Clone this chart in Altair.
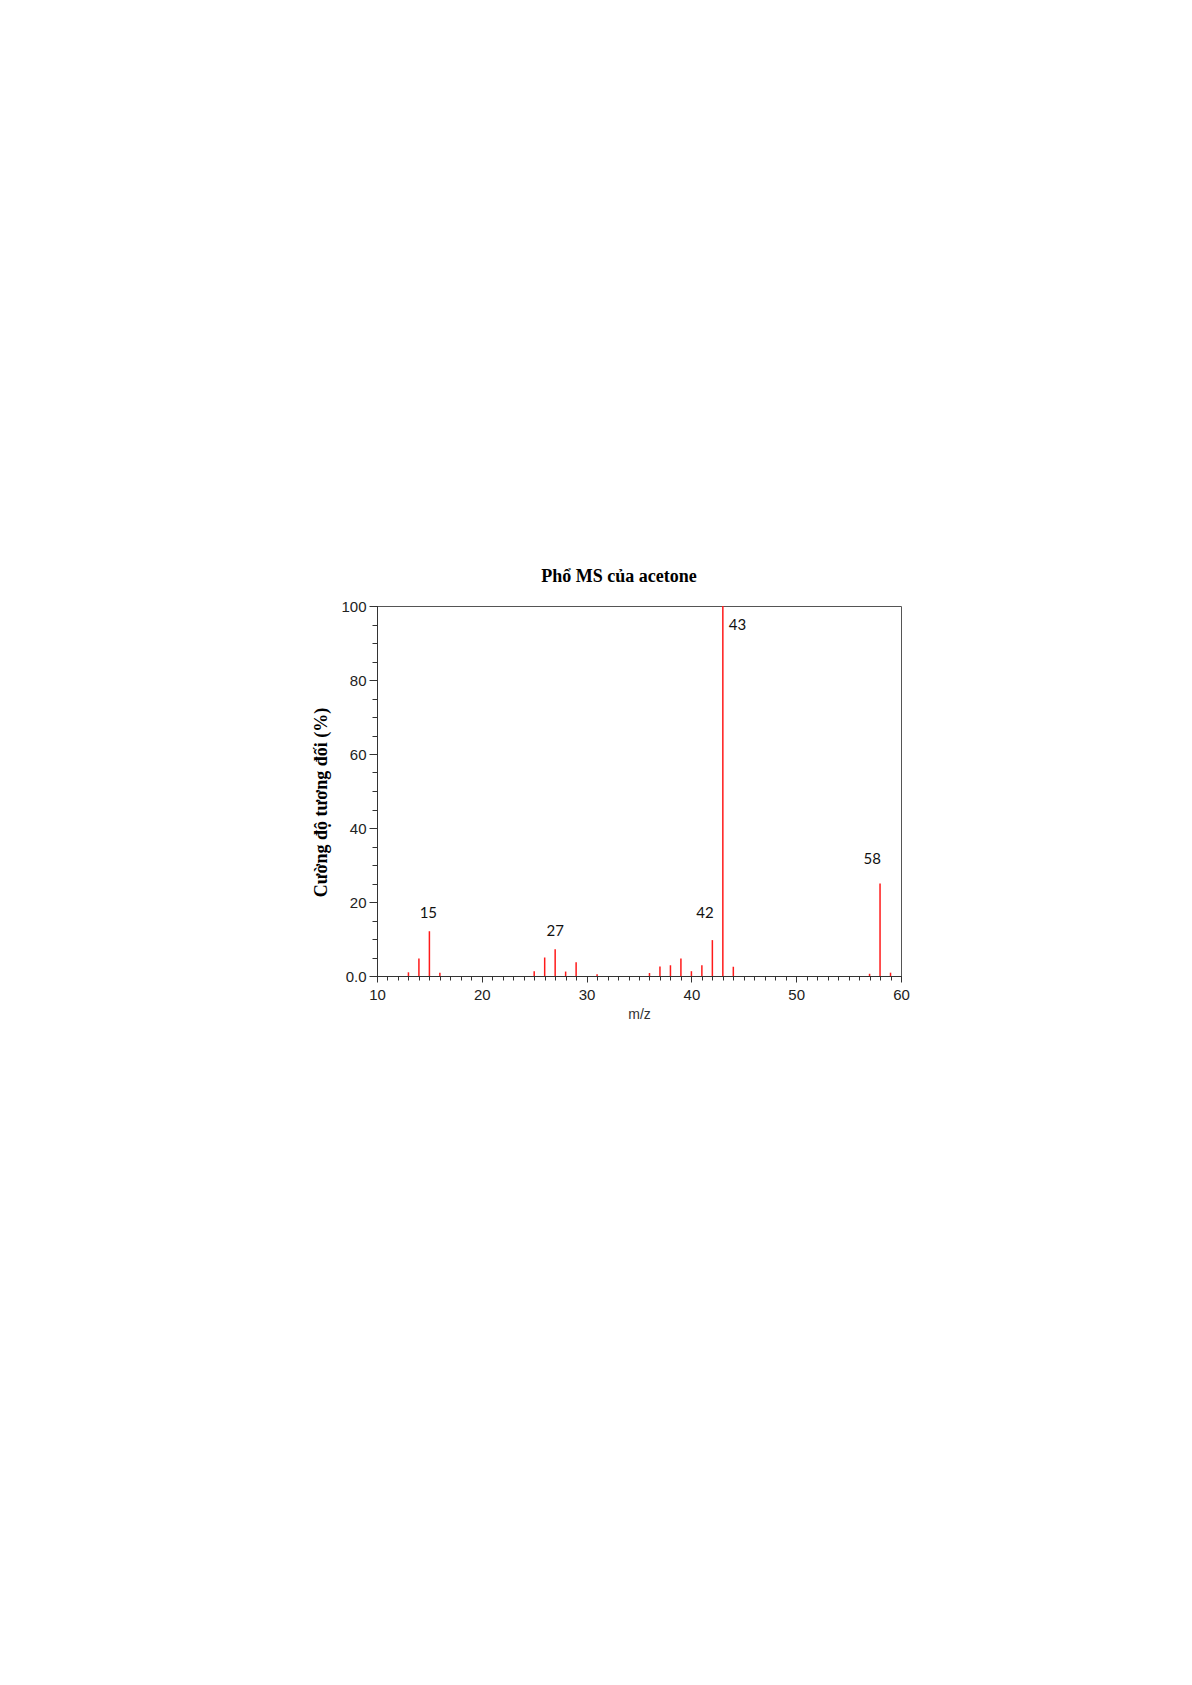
import altair as alt
import pandas as pd

# m/z values and relative intensities (%)
mz = [13, 14, 15, 16, 25, 26, 27, 28, 29, 31, 36, 37, 38, 39, 40, 41, 42, 43, 44, 57, 58, 59]
intensity = [1.0, 4.7, 12.1, 0.9, 1.3, 5.0, 7.2, 1.2, 3.7, 0.5, 0.8, 2.6, 2.9, 4.7,
             1.3, 2.9, 9.7, 100.0, 2.5, 0.6, 25.0, 0.9]

# peak annotations (text and their position in data units)
label_text = ["15", "27", "42", "43", "58"]
label_x = [14.9, 27.0, 41.3, 44.4, 57.25]
label_y = [16.9, 12.2, 17.1, 95.0, 31.5]

x_major = [10, 20, 30, 40, 50, 60]
x_minor = list(range(10, 61))
y_major = [0, 20, 40, 60, 80, 100]
y_minor = list(range(0, 101, 5))

spec = pd.DataFrame({"mz": mz, "intensity": intensity})
labels = pd.DataFrame({"t": label_text, "x": label_x, "y": label_y})

xs = alt.Scale(domain=[10, 60], nice=False, zero=False)
ys = alt.Scale(domain=[0, 100], nice=False)

axis_common = dict(grid=False, domainColor="#333", tickColor="#333", labelFlush=False,
                   labelFont="Liberation Sans", labelFontSize=15, labelColor="#222")

major_x = alt.Axis(values=x_major, orient="bottom", tickSize=6, labelPadding=5,
                   title="m/z", titleFont="Liberation Sans", titleFontSize=14,
                   titleFontWeight="normal", titleColor="#333", titlePadding=5,
                   **axis_common)
minor_x = alt.Axis(values=x_minor, orient="bottom", tickSize=4, labels=False,
                   title=None, grid=False, domainColor="#333", tickColor="#333")
major_y = alt.Axis(values=y_major, orient="left", tickSize=8, labelPadding=3,
                   labelExpr="datum.value == 0 ? '0.0' : datum.label",
                   title="Cường độ tương đối (%)", titleFont="Liberation Serif",
                   titleFontSize=18, titleFontWeight="bold", titleColor="#000",
                   titlePadding=10, titleY=196, **axis_common)
minor_y = alt.Axis(values=y_minor, orient="left", tickSize=5, labels=False,
                   title=None, grid=False, domainColor="#333", tickColor="#333")

stems = alt.Chart(spec).mark_rule(color="#ff1a1a", strokeWidth=1.5).encode(
    x=alt.X("mz:Q", scale=xs, axis=major_x),
    y=alt.Y("intensity:Q", scale=ys, axis=major_y),
    y2=alt.datum(0),
)

minor = alt.Chart(spec).mark_rule(opacity=0).encode(
    x=alt.X("mz:Q", scale=xs, axis=minor_x),
    y=alt.Y("intensity:Q", scale=ys, axis=minor_y),
)

text = alt.Chart(labels).mark_text(font="Lato", fontSize=15, color="#111").encode(
    x=alt.X("x:Q", scale=xs, axis=None),
    y=alt.Y("y:Q", scale=ys, axis=None),
    text="t:N",
)

chart = alt.layer(minor, stems, text).resolve_axis(
    x="independent", y="independent"
).properties(
    width=524,
    height=370,
    title=alt.TitleParams("Phổ MS của acetone", font="Liberation Serif", fontSize=18,
                          fontWeight="bold", color="#000", anchor="middle", dx=-20,
                          offset=13),
    padding={"left": 304, "top": 560, "right": 5, "bottom": 5},
).configure_view(stroke="#555", strokeWidth=1)

chart.save("out.html", embed_options={"renderer": "svg", "actions": False})
